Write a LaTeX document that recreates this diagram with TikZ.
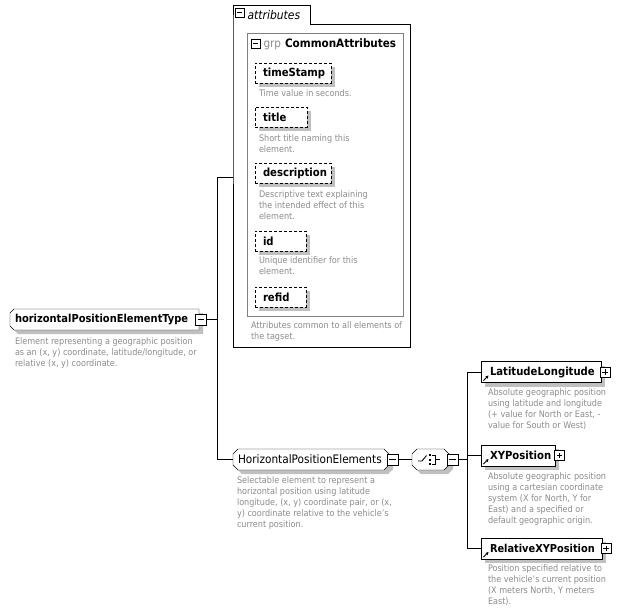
\documentclass[tikz,border=0pt]{standalone}
\usepackage{fontspec}
\setmainfont{DejaVu Sans Condensed}
\usetikzlibrary{calc,shadows,backgrounds,arrows.meta}
\definecolor{desccol}{RGB}{140,140,140}
\definecolor{shdcol}{RGB}{192,192,192}
\definecolor{grpcol}{RGB}{128,128,128}
\newcommand\namefnt{\fontsize{11.2}{13}\selectfont}
\newcommand\descfnt{\fontsize{9}{11}\selectfont}
\hyphenpenalty=10000
\exhyphenpenalty=10000
\begin{document}
\begin{tikzpicture}[x=1pt,y=-1pt,line width=0.8pt,
  every node/.style={inner sep=0pt,outer sep=0pt},
  shd/.style={drop shadow={shadow xshift=4pt,shadow yshift=-4pt,fill=shdcol,opacity=1}},
  tnode/.style={minimum height=21pt,align=left,font=\namefnt\bfseries},
  attrbox/.style={draw,dash pattern=on 3pt off 2pt,fill=white,shd,minimum height=20pt,inner xsep=8pt,align=left,font=\namefnt\bfseries},
  refbox/.style={draw,fill=white,shd,minimum height=21pt,inner xsep=9pt,align=left,font=\namefnt\bfseries},
  desc/.style={font=\descfnt,text=desccol,align=left,anchor=north west},
  minusbox/.style={draw,fill=white,minimum size=#1,
    path picture={\draw[line width=0.8pt] ([xshift=2.3pt]path picture bounding box.west) -- ([xshift=-2.3pt]path picture bounding box.east);}},
  plusbox/.style={draw,fill=white,minimum size=#1,
    path picture={\draw[line width=0.8pt] ([xshift=2.3pt]path picture bounding box.west) -- ([xshift=-2.3pt]path picture bounding box.east);
      \draw[line width=0.8pt] ([yshift=-2.3pt]path picture bounding box.north) -- ([yshift=2.3pt]path picture bounding box.south);}},
  refarrow/.style={-{Stealth[length=3.2pt,width=3.2pt]},line width=0.9pt}
]
\useasboundingbox (0,0) rectangle (628,614);

% ---------- main complex type ----------
\node[tnode,font=\fontsize{11}{13}\selectfont\bfseries,inner xsep=5pt,text width=179pt] (mainT) at (104.5,319.5) {horizontalPositionElementType};
\node[minusbox=11pt] (mainM) at (201,319.5) {};
\node[desc] (mainD) at (15,337.5) {Element representing a geographic position\\as an (x, y) coordinate, latitude/longitude, or\\relative (x, y) coordinate.};

\coordinate (j1) at (217,319.5);
\coordinate (ja) at (217,177);
\coordinate (jb) at (217,459.5);

% ---------- attributes ----------
\node[minimum width=77pt,minimum height=19pt] (attrTab) at (271.5,14.5) {};
\node[minimum width=177pt,minimum height=323pt] (attrBox) at (321.5,185.5) {};
\node[minusbox=9pt] (attrM) at (239.5,12.5) {};
\node[anchor=west,font=\fontsize{12}{13}\selectfont\itshape] (attrT) at (247.5,15) {attributes};

\node[minimum width=156pt,minimum height=283pt] (grpBox) at (325,174.5) {};
\node[minusbox=9pt] (grpM) at (255.5,43.5) {};
\node[anchor=west,font=\fontsize{11.6}{13}\selectfont] (grpT) at (263.5,44) {\textcolor{desccol}{grp}\hspace{4pt}\textbf{CommonAttributes}};

\node[attrbox,text width=60pt] (ts) at (293,73) {timeStamp};
\node[desc] (tsD) at (259,89.5) {Time value in seconds.};
\node[attrbox,text width=36pt] (ti) at (281,117) {title};
\node[desc] (tiD) at (259,134.5) {Short title naming this\\element.};
\node[attrbox,text width=60pt] (de) at (293,173) {description};
\node[desc] (deD) at (259,190.5) {Descriptive text explaining\\the intended effect of this\\element.};
\node[attrbox,text width=35pt] (id) at (280.5,241) {id};
\node[desc] (idD) at (259,256.5) {Unique identifier for this\\element.};
\node[attrbox,text width=35pt] (rf) at (280.5,297) {refid};
\node[desc] (grpD) at (251,321.5) {Attributes common to all elements of\\the tagset.};

% ---------- group reference ----------
\node[tnode,font=\fontsize{11.7}{13}\selectfont,inner xsep=5pt,text width=146pt] (hpe) at (311,459.5) {HorizontalPositionElements};
\node[minusbox=11pt] (hpeM) at (392.5,459.5) {};
\node[desc] (hpeD) at (237,476.5) {Selectable element to represent a\\horizontal position using latitude\\longitude, (x, y) coordinate pair, or (x,\\y) coordinate relative to the vehicle's\\current position.};

% ---------- choice ----------
\node[minimum width=37pt,minimum height=21pt] (ch) at (430.5,459.5) {};
\node[minusbox=11pt] (chM) at (452.5,459.5) {};

\coordinate (jTop) at (467,372);
\coordinate (jBot) at (467,548.5);

% ---------- element references ----------
\node[refbox,text width=102pt] (lat) at (541,372) {LatitudeLongitude};
\node[plusbox=10pt] (latP) at (605,372) {};
\node[desc] (latD) at (488,388.5) {Absolute geographic position\\using latitude and longitude\\(+ value for North or East, -\\value for South or West)};

\node[refbox,text width=56pt] (xy) at (518,455.5) {XYPosition};
\node[plusbox=10pt] (xyP) at (559.5,455.5) {};
\node[desc] (xyD) at (488,472.5) {Absolute geographic position\\using a cartesian coordinate\\system (X for North, Y for\\East) and a specified or\\default geographic origin.};

\node[refbox,text width=103pt,font=\fontsize{10.9}{13}\selectfont\bfseries] (rel) at (541.5,548.5) {RelativeXYPosition};
\node[plusbox=10pt] (relP) at (606,548.5) {};
\node[desc] (relD) at (488,564.5) {Position specified relative to\\the vehicle's current position\\(X meters North, Y meters\\East).};

\draw[refarrow] ($(lat.south west)+(2.5,-2)$) -- +(5,-5);
\draw[refarrow] ($(xy.south west)+(2.5,-2)$) -- +(5,-5);
\draw[refarrow] ($(rel.south west)+(2.5,-2)$) -- +(5,-5);

% ---------- choice symbol ----------
\begin{scope}[shift={(ch.center)},line width=0.9pt]
  \draw (-12.5,1.5) -- (-8.5,1.5) -- (-4,-4);
  \fill (-2,-5.5) rectangle (0,-3.5);
  \fill (-2,-1) rectangle (0,1);
  \fill (-2,3.5) rectangle (0,5.5);
  \draw (1,-4.5) -- (4.5,-4.5) -- (4.5,4.5) -- (1,4.5);
  \draw (4.5,0) -- (9.5,0);
\end{scope}

% ---------- connectors ----------
\draw (mainM.east) -- (j1);
\draw (ja) -- (jb);
\draw (ja) -- (ja -| attrBox.west);
\draw (jb) -- (hpe.west);
\draw (hpeM.east) -- (ch.west);
\draw (chM.east) -- (chM.east -| jTop);
\draw (jTop) -- (jBot);
\draw (jTop) -- (lat.west);
\draw (xy.west -| jTop) -- (xy.west);
\draw (jBot) -- (rel.west);

% ---------- outlines on background ----------
\begin{scope}[on background layer]
  \fill[white] (0,0) rectangle (628,614);
  \draw (attrTab.south west) -- (attrTab.north west) -- (attrTab.north east) -- (attrTab.south east)
        -- (attrBox.north east) -- (attrBox.south east) -- (attrBox.south west) -- cycle;
  \draw[grpcol] (grpBox.north west) rectangle (grpBox.south east);
  \path[draw,fill=white,shd] ($(mainT.north west)+(4,0)$) -- (mainT.north east) -- (mainT.south east)
        -- ($(mainT.south west)+(4,0)$) -- ($(mainT.south west)+(0,-4)$) -- ($(mainT.north west)+(0,4)$) -- cycle;
  \path[draw,fill=white,shd] ($(hpe.north west)+(5,0)$) -- ($(hpe.north east)+(-5,0)$) -- ($(hpe.north east)+(0,5)$)
        -- ($(hpe.south east)+(0,-5)$) -- ($(hpe.south east)+(-5,0)$) -- ($(hpe.south west)+(5,0)$)
        -- ($(hpe.south west)+(0,-5)$) -- ($(hpe.north west)+(0,5)$) -- cycle;
  \path[draw,fill=white,shd] ($(ch.north west)+(5,0)$) -- ($(ch.north east)+(-5,0)$) -- ($(ch.north east)+(0,5)$)
        -- ($(ch.south east)+(0,-5)$) -- ($(ch.south east)+(-5,0)$) -- ($(ch.south west)+(5,0)$)
        -- ($(ch.south west)+(0,-5)$) -- ($(ch.north west)+(0,5)$) -- cycle;
\end{scope}
\end{tikzpicture}
\end{document}
